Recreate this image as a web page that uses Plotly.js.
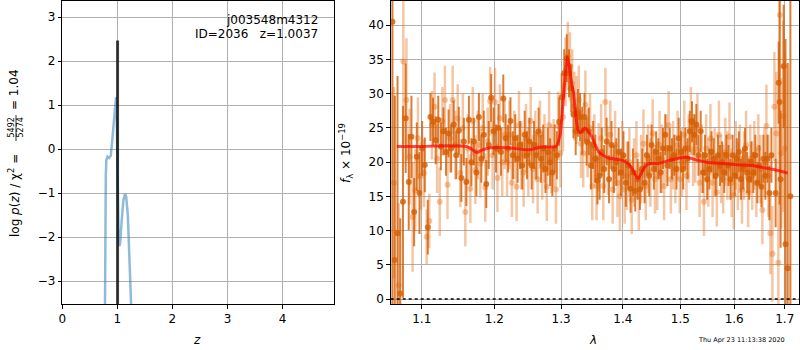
<!DOCTYPE html>
<html>
<head>
<meta charset="utf-8">
<script src="https://cdn.plot.ly/plotly-3.0.1.min.js"></script>
<style>html,body{margin:0;padding:0;background:#fff;}#chart{width:800px;height:350px;}</style>
</head>
<body>
<div id="chart"></div>
<script>
// ---------- left panel: log p(z) ----------
const zGrid = [0.775,0.780,0.790,0.800,0.820,0.850,0.880,0.900,0.930,0.960,0.975,0.990,1.005,1.020,1.035,1.050,1.080,1.110,1.140,1.160,1.190,1.215,1.240,1.258];
const logPz = [-3.7,-1.8,-0.6,-0.25,-0.17,-0.2,-0.15,0.1,0.6,1.05,1.18,0.6,-0.8,-1.9,-2.2,-2.15,-1.6,-1.15,-1.02,-1.08,-1.5,-2.2,-3.2,-3.8];
const zBest = 1.0037;
const zLineTop = 2.47;
const zLineBottom = -4.0;
const zTicks = [0,1,2,3,4];
const logTicks = [-3,-2,-1,0,1,2,3];

// ---------- right panel: spectrum ----------
const wlDark = [1.0620,1.0650,1.0685,1.0720,1.0755,1.0790,1.0830,1.0865,1.0900,1.0935,1.0970,1.1005,1.1040,1.1080,1.1115,1.1150,1.1185,1.1220,1.1255,1.1290,1.1325,1.1360,1.1395,1.1430,1.1465,1.1500,1.1535,1.1570,1.1605,1.1640,1.1675,1.1710,1.1745,1.1780,1.1815,1.1850,1.1885,1.1920,1.1955,1.1990,1.2025,1.2060,1.2095,1.2130,1.2165,1.2200,1.2235,1.2270,1.2305,1.2340,1.2375,1.2410,1.2445,1.2480,1.2515,1.2550,1.2585,1.2620,1.2655,1.2690,1.2725,1.2760,1.2795,1.2830,1.2865,1.2900,1.2935,1.2970,1.3010,1.3050,1.3090,1.3125,1.3160,1.3195,1.3230,1.3265,1.3300,1.3335,1.3370,1.3405,1.3440,1.3475,1.3510,1.3545,1.3580,1.3615,1.3650,1.3690,1.3730,1.3770,1.3810,1.3850,1.3890,1.3930,1.3970,1.4010,1.4050,1.4090,1.4130,1.4170,1.4210,1.4250,1.4290,1.4330,1.4370,1.4410,1.4450,1.4490,1.4530,1.4570,1.4610,1.4650,1.4690,1.4730,1.4770,1.4810,1.4850,1.4890,1.4930,1.4970,1.5010,1.5050,1.5090,1.5130,1.5170,1.5210,1.5250,1.5290,1.5330,1.5370,1.5410,1.5450,1.5490,1.5530,1.5570,1.5610,1.5650,1.5690,1.5730,1.5770,1.5810,1.5850,1.5890,1.5930,1.5970,1.6010,1.6050,1.6090,1.6130,1.6170,1.6210,1.6250,1.6290,1.6330,1.6370,1.6410,1.6450,1.6490,1.6530,1.6570,1.6610,1.6650,1.6690,1.6730,1.6815,1.6876,1.6895,1.6915,1.6978,1.7015,1.7060,1.7115];
const fluxDark = [40.5,5.7,9.6,0.8,14.2,26.4,17.1,23.7,12.7,20.8,15.5,22.0,19.6,10.5,26.6,25.9,23.2,26.2,22.3,24.5,21.5,24.2,22.0,25.5,21.0,24.6,17.7,23.0,17.1,26.2,20.0,23.0,18.5,26.6,20.5,24.0,16.8,22.5,29.4,24.5,22.0,25.0,21.5,29.3,23.5,22.0,26.0,21.0,23.5,20.5,22.5,19.5,24.0,21.0,23.0,19.5,22.5,21.0,24.5,20.5,22.0,19.0,21.5,20.0,18.5,22.0,21.0,25.9,29.5,33.0,35.2,33.0,30.8,27.0,24.5,27.2,26.6,24.6,26.6,23.0,24.5,19.5,22.5,20.5,17.3,18.0,21.5,19.0,23.0,17.5,22.5,19.0,20.0,21.5,18.5,21.0,17.0,19.5,16.1,18.5,15.8,17.5,16.0,19.0,17.0,21.0,18.0,22.5,19.0,21.5,20.5,18.5,22.0,24.0,19.5,22.0,20.5,21.0,19.0,23.5,21.5,19.0,22.0,20.5,24.5,25.9,24.0,25.5,21.0,24.5,18.5,21.0,17.5,19.0,21.5,20.5,18.0,21.0,19.5,20.0,18.5,21.0,19.5,17.5,21.0,18.0,20.5,21.5,17.5,19.0,22.0,18.5,17.5,20.0,18.5,21.0,17.0,19.5,16.4,20.5,18.0,20.5,15.5,21.0,15.5,31.6,28.8,17.5,34.0,8.0,4.5,15.0];
const errDark = [45,24,23,11,14,8,7,6,5,5,6,4,4,4,3.5,3.5,3.5,3.5,3.5,3.5,3.5,3.5,3.5,3.5,3.5,3.5,3.5,3.5,3.5,3.5,3.5,3.5,3.5,3.5,3.5,3.5,3.5,3.5,3.5,3.5,3.5,3.5,3.5,3.5,3.5,3.5,3.5,3.5,3.5,3.5,3.5,3.5,3.5,3.5,3.5,3.5,3.5,3.5,3.5,3.5,3.5,3.5,3.5,3.5,3.5,3.5,3.5,3.5,3.5,3.5,3.5,3.5,3.5,3.5,3.5,3.5,3.5,3.5,3.5,3.5,3.5,3.5,3.5,3.5,3.5,3.5,3.5,3.5,3.5,3.5,3.5,3.5,3.5,3.5,3.5,3.5,3.5,3.5,3.5,3.5,3,3,3,3,3,3,3,3,3,3,3,3,3,3,3,3,3,3,3,3,3,3,3,3,3,3,3,3,3,3,3,3,3,3,3,3,3,3,3,3,3,3,3,3,3,3,3,3,3,3,3,3,3,3,3,3,3,3,3,3.5,3.5,3.5,4,4,5,6,15,10,9,30,30,30,30];

const wlLight = [1.0640,1.0700,1.0760,1.0800,1.0840,1.0880,1.0915,1.0950,1.0990,1.1030,1.1065,1.1100,1.1135,1.1170,1.1205,1.1240,1.1275,1.1310,1.1345,1.1380,1.1415,1.1450,1.1485,1.1520,1.1555,1.1590,1.1625,1.1660,1.1695,1.1730,1.1765,1.1800,1.1835,1.1870,1.1905,1.1940,1.1975,1.2010,1.2045,1.2080,1.2115,1.2150,1.2185,1.2220,1.2255,1.2290,1.2325,1.2360,1.2395,1.2430,1.2465,1.2500,1.2535,1.2570,1.2605,1.2640,1.2675,1.2710,1.2745,1.2780,1.2815,1.2850,1.2885,1.2920,1.2955,1.2990,1.3030,1.3070,1.3105,1.3140,1.3175,1.3210,1.3245,1.3280,1.3315,1.3350,1.3385,1.3420,1.3460,1.3495,1.3530,1.3565,1.3600,1.3640,1.3675,1.3710,1.3750,1.3790,1.3830,1.3870,1.3910,1.3950,1.3990,1.4030,1.4070,1.4110,1.4150,1.4190,1.4230,1.4270,1.4310,1.4350,1.4390,1.4430,1.4470,1.4510,1.4550,1.4590,1.4630,1.4670,1.4710,1.4750,1.4790,1.4830,1.4870,1.4910,1.4950,1.4990,1.5030,1.5070,1.5110,1.5150,1.5190,1.5230,1.5270,1.5310,1.5350,1.5390,1.5430,1.5470,1.5510,1.5550,1.5590,1.5630,1.5670,1.5710,1.5750,1.5790,1.5830,1.5870,1.5910,1.5950,1.5990,1.6030,1.6070,1.6110,1.6150,1.6190,1.6230,1.6270,1.6310,1.6350,1.6390,1.6430,1.6470,1.6510,1.6550,1.6590,1.6630,1.6670,1.6710,1.6750,1.6790,1.6830,1.6870,1.6900,1.6930,1.6970,1.7000];
const fluxLight = [17.0,2.0,34.7,29.1,20.8,12.0,15.9,23.5,18.0,18.4,9.1,11.4,25.4,28.1,20.5,14.2,26.0,29.1,16.7,23.5,29.1,22.5,26.4,18.4,25.0,12.7,22.0,16.1,26.0,18.9,22.5,19.8,25.0,16.3,23.0,28.9,21.0,28.8,17.7,26.4,20.0,24.0,20.0,24.0,17.0,22.5,16.4,25.4,21.0,18.5,23.5,20.0,26.0,19.0,22.5,17.5,24.0,19.5,22.0,16.4,25.4,20.5,21.3,16.0,25.3,21.3,26.6,33.2,35.5,34.0,31.5,28.2,27.6,29.1,22.7,21.3,28.4,22.8,25.0,16.5,22.0,16.5,20.7,23.5,16.5,28.8,20.2,24.0,16.0,22.5,17.0,15.0,21.0,16.0,18.0,20.0,14.5,18.5,21.0,15.0,19.0,22.7,16.5,20.5,18.5,24.2,17.5,18.0,22.5,20.5,16.5,22.0,25.4,17.5,21.0,19.0,22.5,17.5,20.0,24.0,18.0,22.0,26.0,21.5,22.0,25.0,17.0,20.5,14.2,22.0,18.5,23.5,17.0,20.0,15.6,24.0,19.0,17.5,21.5,19.5,23.7,17.0,15.2,21.0,18.0,20.5,16.0,19.5,22.5,15.5,20.5,18.0,21.0,17.0,22.0,19.0,13.0,20.0,25.3,18.0,9.6,6.6,28.1,24.2,5.3,41.5,21.3,26.7,22.0];
const errLight = [14,12,12,9,7,8,6,6,5,5,4,4,5,5,5,5,5,5,5,5,5,5,5,5,5,5,5,5,5,5,5,5,5,5,5,5,5,5,5,5,5,5,5,5,5,5,5,5,5,5,5,5,5,5,5,5,5,5,5,5,5,5,5,5,5,5,5,5,5,5,5,5,5,5,5,5,5,5,5,5,5,5,5,5,5,5,5,5,5,5,5,5,5,5,5,5,5,5,5,5,5,5,5,5,5,5,5,5,5,5,5,5,5,5,5,5,5,5,5,5,5,5,5,5,5,5,5,5,5,5,5,5,5,5,5,5,5,5,5,5,5,5,5,5,5,5,5,5,5,5,5,5,5,5,5,5,5,5,6,6,6,7,8,9,10,10,11,14,14,14,18];

const wlModel = [1.0676,1.100,1.135,1.160,1.168,1.175,1.183,1.195,1.220,1.250,1.270,1.292,1.2986,1.302,1.306,1.3095,1.313,1.3165,1.3197,1.3235,1.3265,1.330,1.334,1.338,1.343,1.349,1.355,1.360,1.367,1.376,1.398,1.409,1.415,1.420,1.4257,1.431,1.437,1.445,1.460,1.487,1.511,1.530,1.548,1.580,1.611,1.635,1.6565,1.680,1.706];
const fluxModel = [22.3,22.3,22.4,22.3,21.9,21.4,21.8,22.1,22.1,21.8,22.2,22.3,24.0,27.5,32.0,35.4,34.0,31.5,30.1,26.5,24.7,24.3,24.6,25.0,24.5,23.7,22.4,21.5,21.0,20.6,20.3,19.8,19.1,18.3,17.6,18.3,19.3,19.8,19.8,20.4,20.7,20.3,20.0,19.8,19.6,19.5,19.2,18.9,18.4];

const wlTicks = [1.1,1.2,1.3,1.4,1.5,1.6,1.7];
const wlTickText = ['1.1','1.2','1.3','1.4','1.5','1.6','1.7'];
const fluxTicks = [0,5,10,15,20,25,30,35,40];
const wlRange = [1.0598, 1.7299];
const fluxRange = [-0.73, 43.55];
const zRange = [0, 4.94];
const logRange = [-3.52, 3.37];

// ---------- drawing ----------
const FONT = 'DejaVu Sans';
const lightCol = 'rgba(230,120,35,0.42)';
const darkCol = 'rgba(212,94,4,0.8)';

const traces = [
  {x: zGrid, y: logPz, xaxis:'x', yaxis:'y', mode:'lines', line:{color:'rgba(31,119,180,0.5)', width:2.5}, hoverinfo:'skip'},
  {x: [zBest, zBest], y: [zLineBottom, zLineTop], xaxis:'x', yaxis:'y', mode:'lines', line:{color:'rgba(0,0,0,0.75)', width:3}, hoverinfo:'skip'},
  {x: wlLight, y: fluxLight, xaxis:'x2', yaxis:'y2', mode:'markers', marker:{color:lightCol, size:6},
   error_y:{type:'data', array: errLight, visible:true, color:lightCol, thickness:2.5, width:0}},
  {x: wlDark, y: fluxDark, xaxis:'x2', yaxis:'y2', mode:'markers', marker:{color:darkCol, size:6},
   error_y:{type:'data', array: errDark, visible:true, color:darkCol, thickness:2, width:0}},
  {x: wlModel, y: fluxModel, xaxis:'x2', yaxis:'y2', mode:'lines', line:{color:'rgba(255,0,0,0.7)', width:3, shape:'spline', smoothing:0.5}}
];

const axisCommon = {
  showgrid:true, gridcolor:'#b0b0b0', gridwidth:1, zeroline:false,
  showline:true, linecolor:'black', linewidth:1, mirror:true,
  ticks:'outside', ticklen:3.5, tickcolor:'black', tickwidth:1,
  tickfont:{family:FONT, size:12, color:'black'}, fixedrange:true
};

const W = 800, Htop = 1, Hbot = 304;
const px = v => v / W;
const py = v => (Hbot - v) / (Hbot - Htop);

const layout = {
  width: 800, height: 350,
  margin: {l:0, r:0, t:1, b:46, pad:0},
  paper_bgcolor:'white', plot_bgcolor:'white',
  showlegend:false,
  font:{family:FONT, size:12, color:'black'},
  xaxis: Object.assign({}, axisCommon, {domain:[px(62.3), px(334.3)], range: zRange, tickvals: zTicks, anchor:'y'}),
  yaxis: Object.assign({}, axisCommon, {domain:[0,1], range: logRange, tickvals: logTicks, anchor:'x'}),
  xaxis2: Object.assign({}, axisCommon, {domain:[px(390.7), px(799.3)], type:'log', range: wlRange.map(Math.log10), tickvals: wlTicks, ticktext: wlTickText, anchor:'y2'}),
  yaxis2: Object.assign({}, axisCommon, {domain:[0,1], range: fluxRange, tickvals: fluxTicks, anchor:'x2'}),
  shapes: [
    {type:'line', xref:'x2 domain', yref:'y2', x0:0, x1:1, y0:0, y1:0, line:{color:'black', width:1.5, dash:'dot'}},
    {type:'line', xref:'paper', yref:'paper', x0:px(16), x1:px(16), y0:py(115), y1:py(141), line:{color:'black', width:0.8}}
  ],
  annotations: [
    {xref:'paper', yref:'paper', x:px(13.5), y:py(239), xanchor:'center', yanchor:'bottom', textangle:-90, showarrow:false,
     text:'log <i>p</i>(<i>z</i>) / χ<sup>2</sup> =', font:{family:FONT, size:12}},
    {xref:'paper', yref:'paper', x:px(11.5), y:py(128), xanchor:'center', yanchor:'middle', textangle:-90, showarrow:false,
     text:'5492', font:{family:FONT, size:8}},
    {xref:'paper', yref:'paper', x:px(20.5), y:py(128), xanchor:'center', yanchor:'middle', textangle:-90, showarrow:false,
     text:'5274', font:{family:FONT, size:8}},
    {xref:'paper', yref:'paper', x:px(13.5), y:py(112), xanchor:'center', yanchor:'bottom', textangle:-90, showarrow:false,
     text:'= 1.04', font:{family:FONT, size:12}},
    {xref:'paper', yref:'paper', x:px(346), y:py(153), xanchor:'center', yanchor:'middle', textangle:-90, showarrow:false,
     text:'<i>f</i><sub>λ</sub> × 10<sup>−19</sup>', font:{family:FONT, size:12}},
    {xref:'paper', yref:'paper', x:px(197), y:py(340), xanchor:'center', yanchor:'middle', showarrow:false,
     text:'<i>z</i>', font:{family:FONT, size:12}},
    {xref:'paper', yref:'paper', x:px(593), y:py(340), xanchor:'center', yanchor:'middle', showarrow:false,
     text:'<i>λ</i>', font:{family:FONT, size:12}},
    {xref:'paper', yref:'paper', x:px(320), y:py(20), xanchor:'right', yanchor:'middle', showarrow:false,
     text:'j003548m4312', font:{family:FONT, size:12}},
    {xref:'paper', yref:'paper', x:px(320), y:py(34), xanchor:'right', yanchor:'middle', showarrow:false,
     text:'ID=2036&nbsp;&nbsp;&nbsp;z=1.0037', font:{family:FONT, size:12}},
    {xref:'paper', yref:'paper', x:px(787), y:py(340), xanchor:'right', yanchor:'middle', showarrow:false,
     text:'Thu Apr 23 11:13:38 2020', font:{family:FONT, size:6.5}}
  ]
};

Plotly.newPlot('chart', traces, layout, {staticPlot:true, displayModeBar:false});
</script>
</body>
</html>
